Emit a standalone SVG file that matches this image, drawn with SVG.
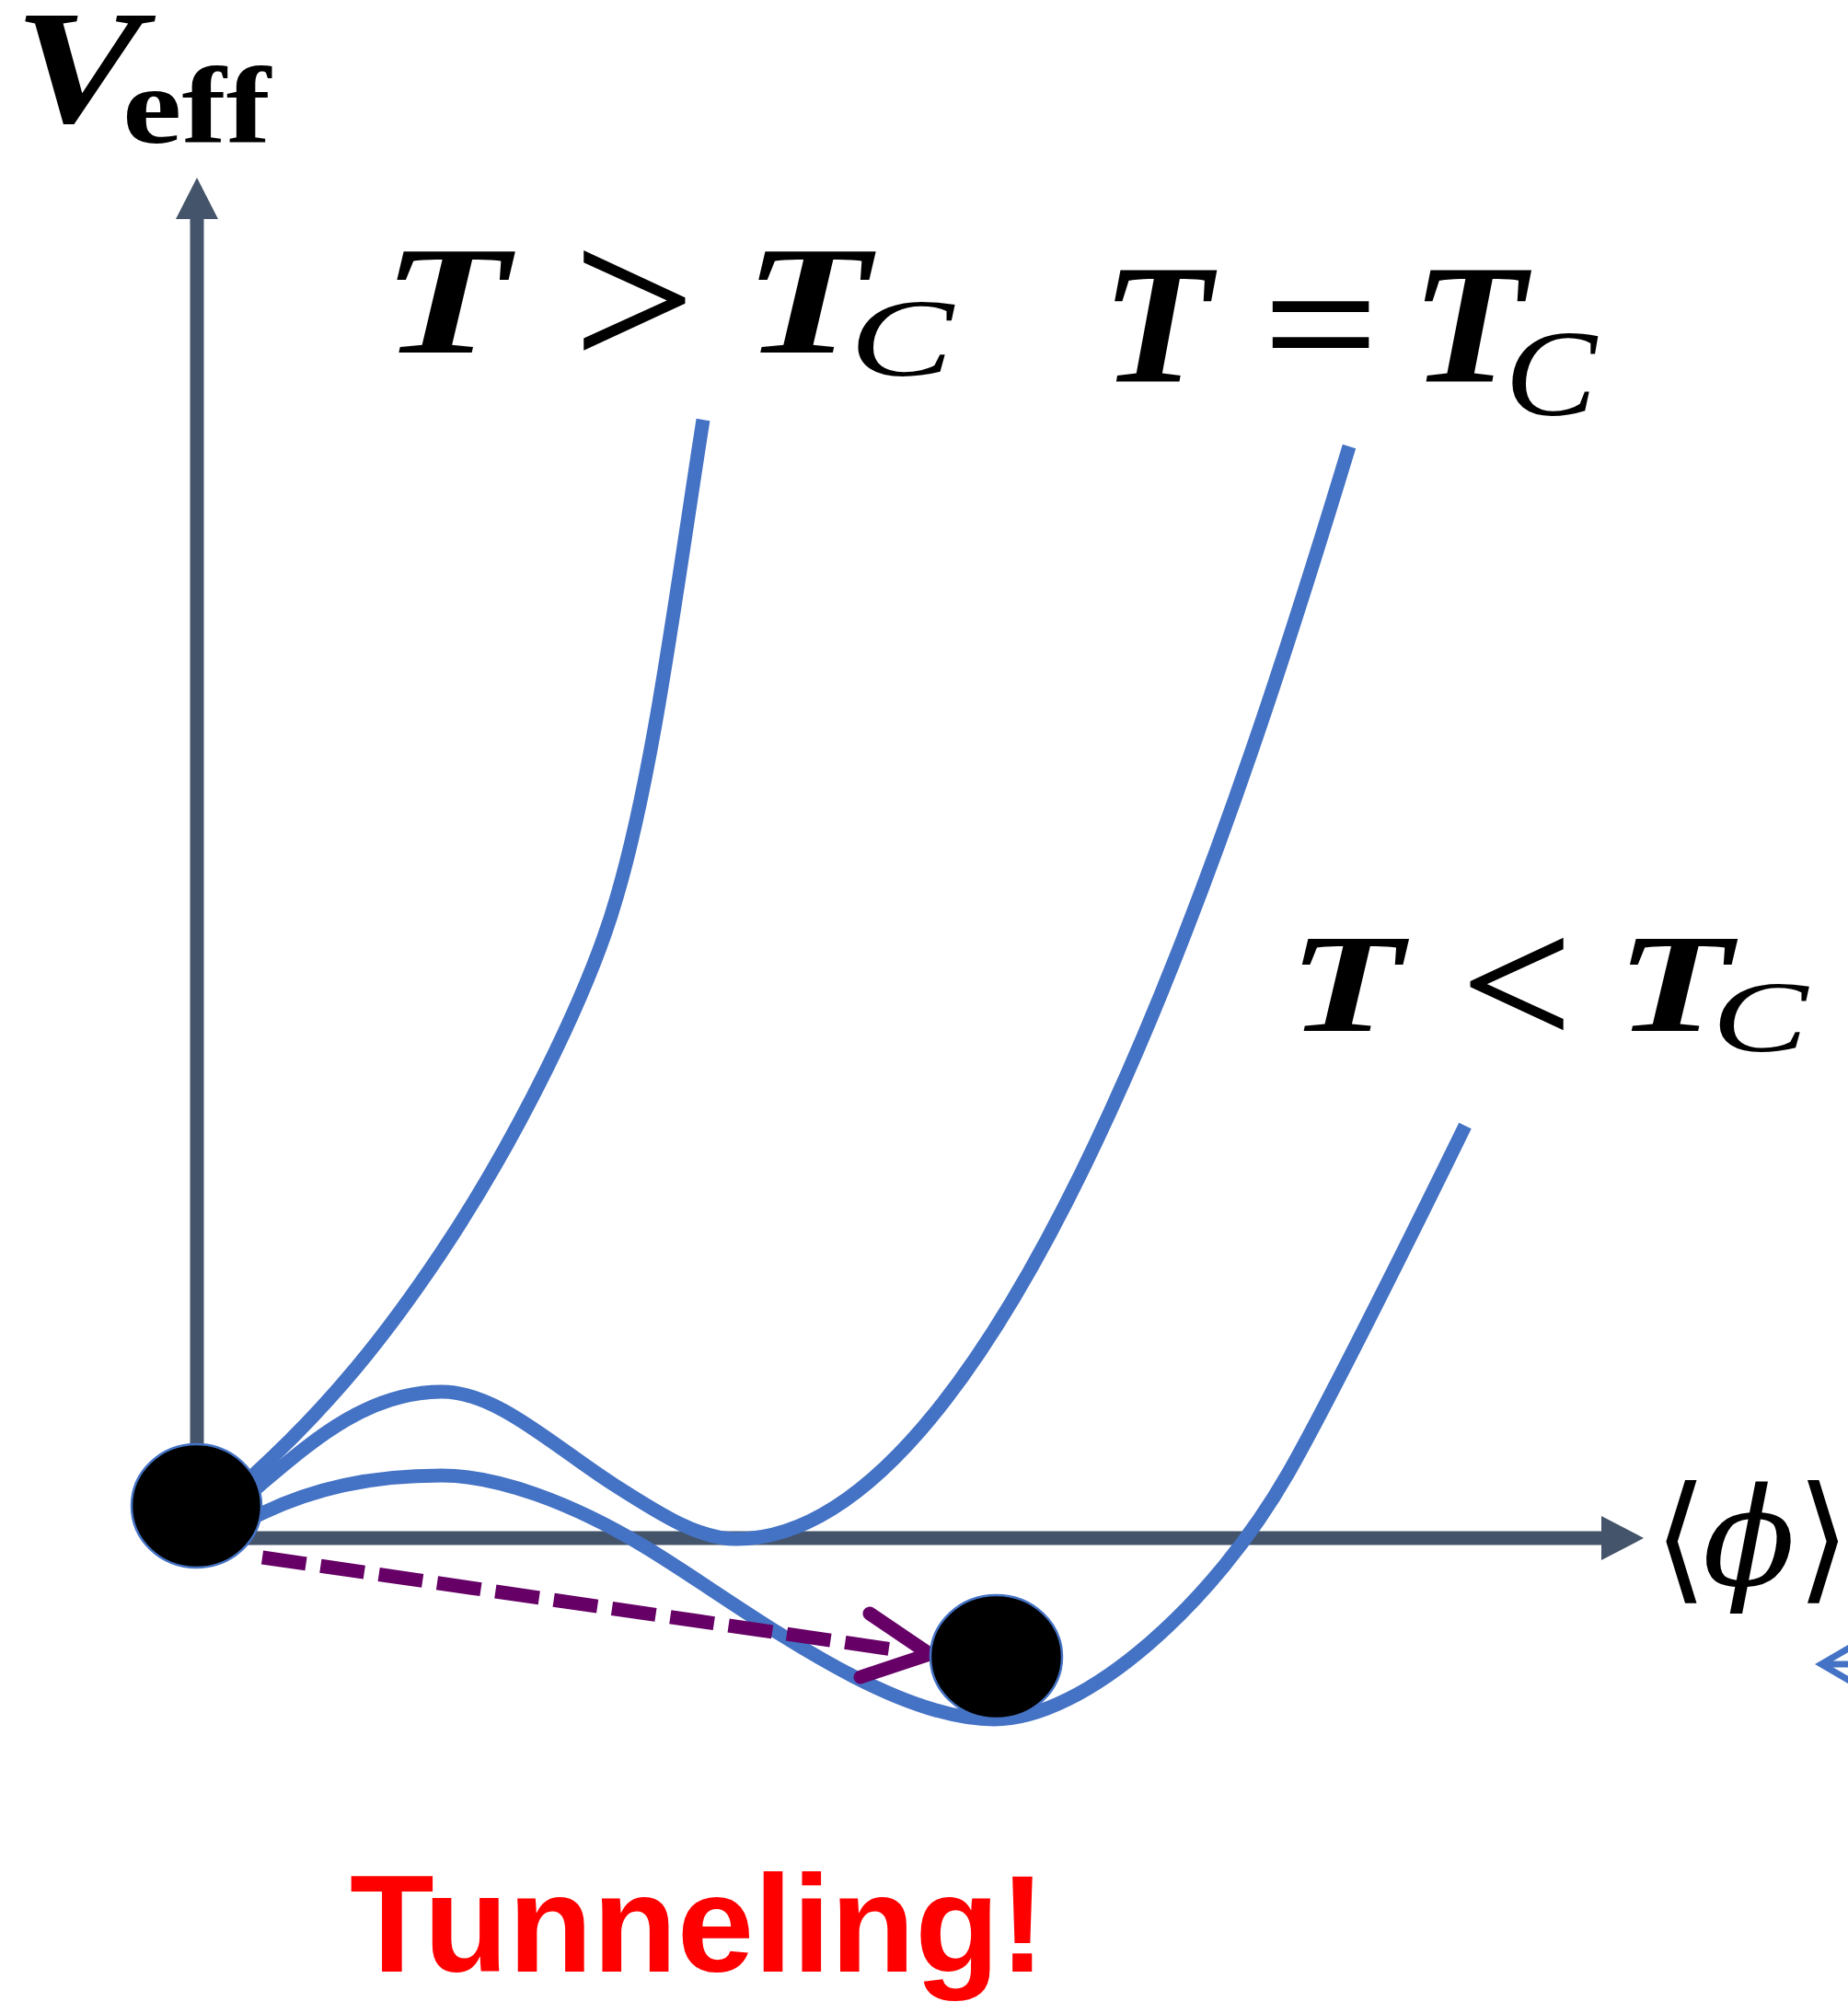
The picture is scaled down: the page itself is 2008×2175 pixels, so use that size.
<svg xmlns="http://www.w3.org/2000/svg" width="2008" height="2175" viewBox="0 0 2008 2175">
<defs>
<style>
.axis{stroke:#44546A;stroke-width:15;fill:none}
.axhead{fill:#44546A}
.curve{stroke:#4472C4;stroke-width:15;fill:none;stroke-linecap:butt;stroke-linejoin:round}
.ball{fill:#000;stroke:#4472C4;stroke-width:2.5}
.tun{stroke:#660066;stroke-width:15;fill:none}
.mi{font-family:"Liberation Serif",serif;font-style:italic;font-weight:bold;fill:#000}
.ci{font-family:"Liberation Serif",serif;font-style:italic;fill:#000}
.rm{font-family:"Liberation Serif",serif;fill:#000;stroke:#000;stroke-width:2}
</style>
</defs>
<rect width="2008" height="2175" fill="#fff"/>
<g id="connectors">
  <g id="axes">
    <line class="axis" x1="214" y1="1600" x2="214" y2="236"/>
    <polygon class="axhead" points="191,238 214,193 237,238"/>
    <line class="axis" x1="214" y1="1671" x2="1742" y2="1671"/>
    <polygon class="axhead" points="1740,1647 1786,1671 1740,1695"/>
  </g>
  <path id="curve-above" class="curve" d="M250,1625 L278,1600 C360,1525 420,1450 480,1360 C560,1240 640,1080 670,975 C710,840 735,640 764,456"/>
  <path id="curve-critical" class="curve" d="M255,1637 L283,1613 C340,1565 400,1512 480,1512 C540,1512 600,1570 667,1613 C720,1647 760,1672 800,1672 C1100,1672 1361.6,829.5 1466,485"/>
  <path id="curve-below" class="curve" d="M255,1658 L287,1643 C340,1618 400,1603 480,1603 C540,1603 620,1632 700,1680 C800,1740 960,1868 1080,1868 C1180,1868 1320,1740 1400,1600 C1440,1530 1530,1350 1592,1223"/>
  <g id="tunneling-arrow">
    <path class="tun" d="M285,1692 L968,1791.7" stroke-dasharray="48 16"/>
    <path class="tun" d="M945,1753 L1010,1797 L935,1822" stroke-width="16" stroke-linecap="round" stroke-linejoin="miter"/>
  </g>
  <g id="side-arrow" stroke="#4472C4" fill="none" stroke-width="7">
    <path d="M2010,1790 L1979,1808 L2010,1826"/>
    <line x1="1984" y1="1808" x2="2010" y2="1808"/>
  </g>
</g>
<g id="ball-false-vacuum"><ellipse class="ball" cx="213.5" cy="1636" rx="70.5" ry="67"/></g>
<g id="ball-true-vacuum"><ellipse class="ball" cx="1082.5" cy="1800" rx="71.5" ry="67"/></g>
<g id="label-veff">
  <text class="mi" x="15" y="132" font-size="175" textLength="140" lengthAdjust="spacingAndGlyphs">V</text>
  <text x="133" y="155" font-family="'Liberation Serif',serif" font-weight="bold" font-size="119" textLength="161" lengthAdjust="spacingAndGlyphs">eff</text>
</g>
<g id="label-phi">
  <text x="1797" y="1722" font-family="'DejaVu Sans',sans-serif" font-size="150">⟨</text>
  <text x="1850" y="1722" font-family="'DejaVu Serif',serif" font-style="italic" font-size="148">ϕ</text>
  <text x="1952" y="1722" font-family="'DejaVu Sans',sans-serif" font-size="150">⟩</text>
</g>
<g id="label-above">
  <text class="mi" x="415" y="383" font-size="167" textLength="137.5" lengthAdjust="spacingAndGlyphs">T</text>
  <text class="rm" x="623.5" y="399" font-size="219" textLength="131" lengthAdjust="spacingAndGlyphs">&gt;</text>
  <text class="mi" x="808" y="383" font-size="167" textLength="136.4" lengthAdjust="spacingAndGlyphs">T</text>
  <text class="ci" x="923" y="408" font-size="121" textLength="113" lengthAdjust="spacingAndGlyphs">C</text>
</g>
<g id="label-critical">
  <text class="mi" x="1197" y="414" font-size="185" textLength="119" lengthAdjust="spacingAndGlyphs">T</text>
  <text class="rm" x="1373" y="417" font-size="195" textLength="124" lengthAdjust="spacingAndGlyphs">=</text>
  <text class="mi" x="1533" y="414" font-size="185" textLength="124.4" lengthAdjust="spacingAndGlyphs">T</text>
  <text class="ci" x="1635" y="451" font-size="133" textLength="100" lengthAdjust="spacingAndGlyphs">C</text>
</g>
<g id="label-below">
  <text class="mi" x="1400" y="1120" font-size="152" textLength="124.4" lengthAdjust="spacingAndGlyphs">T</text>
  <text class="rm" x="1588" y="1136" font-size="202" textLength="120" lengthAdjust="spacingAndGlyphs">&lt;</text>
  <text class="mi" x="1756" y="1120" font-size="152" textLength="125.5" lengthAdjust="spacingAndGlyphs">T</text>
  <text class="ci" x="1860" y="1142" font-size="110" textLength="104.4" lengthAdjust="spacingAndGlyphs">C</text>
</g>
<g id="label-tunneling">
  <text x="380" y="2142" font-family="'Liberation Sans',Arial,sans-serif" font-weight="bold" font-size="151" fill="#FF0000" textLength="756" lengthAdjust="spacingAndGlyphs">Tunneling!</text>
</g>
</svg>
